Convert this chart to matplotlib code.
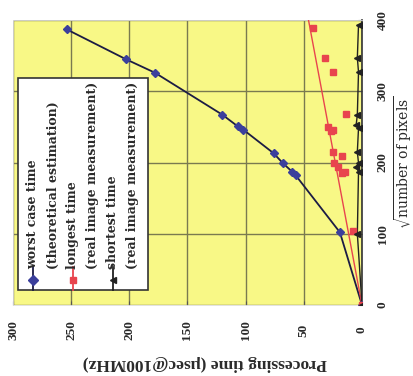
import matplotlib
matplotlib.use("Agg")
from matplotlib import pyplot as plt
from matplotlib.patches import Rectangle

# original chart: x = sqrt(number of pixels), y = processing time (usec @ 100MHz)
# the scanned figure is turned 90 degrees, so time runs along the bottom
worst_sqrt = [0, 102, 182, 187, 199, 213, 246, 251, 267, 326, 345, 387]
worst_time = [0, 19, 57, 60, 68, 76, 102, 107, 120, 178, 203, 254]

longest_sqrt = [0, 104, 185, 187, 194, 199, 209, 215, 244, 246, 250, 268, 327, 347, 389]
longest_time = [0, 8, 17, 15, 21, 24, 17, 25, 27, 25, 29, 14, 25, 32, 42]
fit_sqrt = [0, 400]
fit_time = [0, 46]

shortest_sqrt = [0, 100, 187, 194, 199, 215, 248, 253, 267, 327, 347, 393]
shortest_time = [0, 4, 3, 5, 3, 4, 3, 5, 4, 3, 4, 3]

time_ticks = [300, 250, 200, 150, 100, 50, 0]
sqrt_ticks = [0, 100, 200, 300, 400]

legend_lines = [
    ("worst case time", "(theoretical estimation)"),
    ("longest time", "(real image measurement)"),
    ("shortest time", "(real image measurement)"),
]

W, H = 414, 376
BG = "#f8f886"
GRID = "#7a7a50"
BLUE = "#3b3f9c"
NAVY = "#1c1c44"
RED = "#e8444e"
INK = "#2a2a2a"


def fx(px):
    return px / W


def fy(py):
    return 1 - py / H


plt.rcParams["font.family"] = "Liberation Serif"
plt.rcParams["mathtext.fontset"] = "dejavuserif"

fig = plt.figure(figsize=(W / 100, H / 100), dpi=100)
ax = fig.add_axes([fx(13), fy(305), fx(362) - fx(13), fy(20) - fy(305)])
ax.set_facecolor(BG)

ax.plot(worst_time, worst_sqrt, "-", color=NAVY, lw=1.3, zorder=3)
ax.plot(worst_time, worst_sqrt, "D", color=BLUE, ms=4, zorder=4)
ax.plot(fit_time, fit_sqrt, "-", color=RED, lw=1.0, zorder=3)
ax.plot(longest_time, longest_sqrt, "s", color=RED, ms=4, zorder=4)
ax.plot(shortest_time, shortest_sqrt, "-", color="#222222", lw=1.0, zorder=3)
ax.plot(shortest_time, shortest_sqrt, "<", color="#222222", ms=4, zorder=4)

ax.set_xlim(300, 0)
ax.set_ylim(0, 400)
ax.set_xticks(time_ticks)
ax.set_yticks(sqrt_ticks)
ax.grid(True, color=GRID, lw=1.0)
ax.set_axisbelow(True)

ax.yaxis.tick_right()
ax.tick_params(axis="both", direction="in", length=3, color="#555555")
ax.tick_params(axis="x", pad=18)
ax.tick_params(axis="y", pad=15)
for lab in ax.get_xticklabels() + ax.get_yticklabels():
    lab.set_rotation(90)
    lab.set_fontsize(9.5)
    lab.set_fontweight("bold")
    lab.set_color(INK)
    lab.set_va("center")
    lab.set_ha("center")

for side in ["left", "top", "bottom"]:
    ax.spines[side].set_color("#dddddd")
    ax.spines[side].set_linewidth(0.6)
ax.spines["right"].set_color("#333333")
ax.spines["right"].set_linewidth(1.2)

fig.text(fx(205), fy(363), "Processing time (μsec@100MHz)", rotation=180,
         ha="center", va="center", fontsize=12.5, fontweight="bold", color=INK)
fig.text(fx(403), fy(162), r"$\sqrt{\mathrm{number\ of\ pixels}}$", rotation=90,
         ha="center", va="center", fontsize=10, color=INK)

# legend box, drawn by hand because the text runs upwards
box = Rectangle((fx(18), fy(290)), fx(148) - fx(18), fy(78) - fy(290),
                transform=fig.transFigure, facecolor="white", edgecolor="#333333",
                lw=1.2, zorder=5)
fig.patches.append(box)

styles = [("D", BLUE, NAVY), ("s", RED, RED), ("<", "#222222", "#222222")]
for i, ((first, second), (mk, mc, lc)) in enumerate(zip(legend_lines, styles)):
    x0 = 33 + i * 40
    fig.lines.append(plt.Line2D([fx(x0), fx(x0)], [fy(290), fy(267)], color=lc, lw=1.3,
                                transform=fig.transFigure, zorder=6))
    fig.lines.append(plt.Line2D([fx(x0)], [fy(280)], marker=mk, color=mc, ms=5,
                                transform=fig.transFigure, zorder=7))
    fig.text(fx(x0), fy(269), first, rotation=90, rotation_mode="anchor", ha="left",
             va="center", fontsize=9, fontweight="bold", family="DejaVu Serif",
             color=INK, zorder=7)
    fig.text(fx(x0 + 20), fy(269), second, rotation=90, rotation_mode="anchor", ha="left",
             va="center", fontsize=9, fontweight="bold", family="DejaVu Serif",
             color=INK, zorder=7)

fig.savefig("out.png", dpi=100, facecolor="white")
